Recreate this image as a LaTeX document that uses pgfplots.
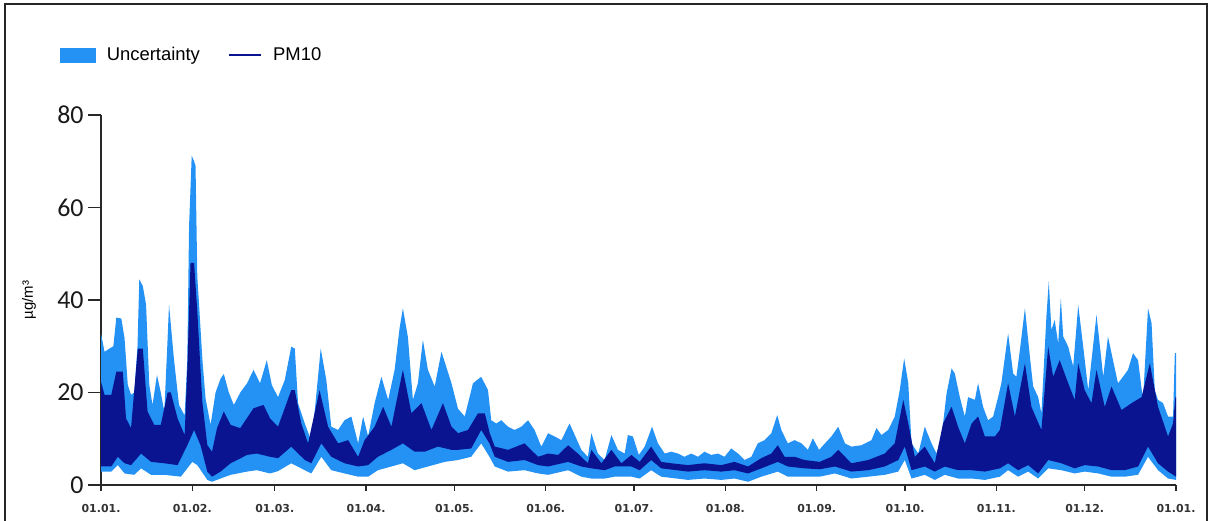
\documentclass[border=0pt]{standalone}
\usepackage{fontspec}
\setmainfont{Liberation Sans}
\newfontfamily\calib{Carlito}
\newfontfamily\dv{DejaVu Sans}
\usepackage{pgfplots}
\pgfplotsset{compat=1.18}
\usepgfplotslibrary{fillbetween}
\definecolor{ublue}{RGB}{36,145,245}
\definecolor{pmdark}{RGB}{10,20,145}
\definecolor{axgray}{RGB}{40,40,40}
\begin{document}
\begin{tikzpicture}
\begin{axis}[
  at={(101bp,36bp)}, anchor=south west,
  scale only axis, width=1075bp, height=370bp,
  xmin=0, xmax=365, ymin=0, ymax=80,
  axis lines=left, axis line style={-, line width=1.3bp, axgray},
  tick align=outside,
  xtick={0,31,59,90,120,151,181,212,243,273,304,334,365},
  xticklabels={01.01.,01.02.,01.03.,01.04.,01.05.,01.06.,01.07.,01.08.,01.09.,01.10.,01.11.,01.12.,01.01.},
  ytick={0,20,40,60,80},
  minor tick num=0,
  x tick style={line width=1.3bp, axgray, /pgfplots/major tick length=6bp},
  y tick style={line width=1.3bp, axgray, /pgfplots/major tick length=13bp},
  xticklabel style={font=\dv\bfseries\fontsize{11}{11}\selectfont, text=black!80, inner sep=0pt, anchor=north, yshift=-15bp},
  yticklabel style={font=\calib\fontsize{26}{26}\selectfont, text=black!90, inner sep=0pt, anchor=east, xshift=-13bp},
  /pgf/number format/assume math mode=true,
  ylabel={µg/m³},
  ylabel style={font=\fontsize{15}{15}\selectfont, at={(axis description cs:-0.067,0.5)}, anchor=center},
  legend style={at={(axis description cs:-0.038,1.162)}, anchor=west, draw=none, fill=none, inner sep=0pt,
    font=\fontsize{18.5}{18.5}\selectfont, nodes={inner sep=0pt},
    /tikz/every odd column/.append style={column sep=11bp},
    /tikz/every even column/.append style={column sep=28bp}},
  legend columns=2,
]
\addlegendimage{legend image code/.code={\fill[ublue] (0bp,-7bp) rectangle (35bp,7bp);}}
\addlegendentry{Uncertainty}
\addlegendimage{legend image code/.code={\draw[pmdark, line width=2.2bp] (0bp,0bp) -- (32bp,0bp);}}
\addlegendentry{PM10}

% upper uncertainty envelope
\addplot[name path=uh, draw=none, forget plot] table {
x y
0 32.8
1.2 28.8
2.9 29.5
4.2 30
5.2 36.2
6.9 36
8.0 31.7
9.1 21.6
10.2 19.5
11.3 20
12.4 30
13.0 44.5
14.2 43
15.3 39
16.4 21.6
17.5 17.3
19.0 23.8
20.3 20
21.5 15.9
22.5 30
23.1 39
24.8 27
26.5 17.3
28.4 15
29.3 27
29.9 55.9
30.8 71.2
31.6 70
32.1 69
32.7 45
33.3 39
34.4 27.4
35.5 18.7
37.2 13
38.9 20
40.6 23
41.7 24
43.4 20
45.1 17.3
47.3 20
49.6 22
51.8 24.9
54.0 22
56.3 27
58.0 21.6
60.1 19
62.4 22.7
64.6 29.9
65.8 29.5
66.9 17.7
69.2 13.3
71.4 9.5
72.6 16.2
74.6 29.5
76.5 22.7
78.2 12.6
80.5 11.9
82.7 14
85.0 14.8
87.3 9
89.0 14.8
90.7 10.5
92.9 17.7
95.2 23.4
97.5 18.4
99.7 24.9
101.4 34
102.5 38.2
104.2 32
105.9 18.4
107.6 22
109.3 31.4
111.0 24.9
113.3 21.3
115.6 28.8
119.0 22
121.2 16.5
123.5 14.8
126.3 22
129.1 23.4
131.4 20.5
132.5 14
134.2 13.3
135.9 14
138.2 12.6
140.4 11.9
142.7 12.6
145.0 14
147.2 11.9
149.5 8.3
151.8 11.2
154.0 10.5
156.3 9.7
159.1 13.3
163.1 7.6
165.3 6.1
166.5 11.2
168.7 6.8
171.0 5.4
173.3 10.8
175.5 7.6
177.8 6.8
178.9 10.8
180.6 10.5
182.6 6.5
184.6 8.3
187.1 12.6
189.1 9
191.4 6.8
193.6 7.2
195.9 6.8
198.1 6.1
200.4 6.8
202.7 6.1
204.9 7.2
207.2 6.5
209.5 6.8
211.7 6.1
214.0 7.9
216.3 6.8
218.5 5.4
220.8 6.1
223.0 9
225.3 9.7
227.6 11.2
229.6 15.1
231.0 11.9
233.2 9
235.5 9.7
237.8 9
240.0 7.6
241.7 10.1
243.8 7.6
245.8 9
248.0 10.5
250.3 12.6
252.6 9
254.8 8.3
258.2 8.6
261.6 9.7
263.3 12.3
265.0 10.8
267.3 11.9
269.5 14.8
271.2 20.5
272.7 27.4
274.1 22
275.2 9
277.5 6.8
279.7 12.6
282.0 9
283.7 6.8
285.4 10.5
287.1 19.8
288.8 25.2
289.9 24.1
291.6 19
293.3 14.8
294.4 19
296.7 18.4
297.8 22
299.5 16.9
301.2 14
302.9 14.8
304.6 19
305.7 22
308.0 32.8
309.7 24.1
310.8 23.4
312.0 29.2
313.7 38.2
315.4 27.7
316.5 21.3
318.2 19
319.3 15.5
321.0 36.4
321.8 44
322.7 33.5
323.8 35.7
325.0 30.6
325.9 40.4
326.7 32.1
328.4 29.9
330.1 25.6
331.8 38.9
333.5 29.9
335.2 20.5
338.0 36.8
340.3 23.4
341.9 32.1
343.6 27
345.3 22
347.0 23.4
348.7 24.9
350.4 28.5
352.1 27
353.8 18.4
355.5 38.2
356.7 35
357.8 20.5
358.9 18.4
360.6 17.7
362.3 14.8
364.0 14.8
364.6 28.5
365 28.5
};

% lower uncertainty envelope
\addplot[name path=ul, draw=none, forget plot] table {
x y
0 2.9
3.5 2.9
5.7 4.3
8 2.5
11.3 2.2
13.6 3.6
17 2.2
21.5 2.2
27.1 1.8
31 5
32.7 4.3
36.1 1.1
37.7 0.7
40.6 1.4
44 2.2
49.6 2.9
52.9 3.2
57.4 2.5
60.1 3
64.6 4.7
69.2 3.2
71.4 2.5
74.8 6.1
78.2 3.2
82.7 2.5
87.3 1.8
90.7 1.8
94 3.2
98.6 4
102.5 4.7
106.5 3.2
111 4
116.7 5
121.2 5.4
125.7 6.1
129.1 9
131.9 6.1
133.7 4
138.2 2.9
143.8 3.2
148.4 2.5
151.8 2.2
158.6 3.2
163.1 1.8
166.5 1.4
171 1.4
174.4 1.8
180.1 1.8
182.9 1.4
186.8 3.2
190.2 1.8
199.3 1.1
204.9 1.4
210.6 1.1
215.1 1.4
219.7 0.7
224.2 1.8
229.8 2.9
233.2 1.8
244 1.8
249.2 2.5
254.8 1.4
260.5 1.8
266.1 2.2
270.7 2.9
272.9 5.4
275.2 1.4
279.7 2.2
283.1 1.1
286.5 2.2
291 1.4
295.6 1.4
300.1 1.1
305.2 1.8
308 3.2
311.4 1.8
314.8 2.9
318.2 1.4
321.6 3.6
326.1 3.2
330.6 2.5
334 2.9
338.6 2.5
343.1 1.8
347.6 1.8
352.1 2.2
355.5 6.1
358.9 3.2
362.3 1.4
365 1.1
};

% upper PM10 envelope
\addplot[name path=ph, draw=none, forget plot] table {
x y
0 22.3
1.2 19.5
3.5 19.5
5.2 24.5
7.4 24.5
8.5 14.4
10.2 12.3
12.5 29.5
14.2 29.5
15.8 15.9
18.1 13
20.3 13
22.6 20
23.7 20
26 14.4
28.4 10.8
29.3 25
30.4 48
31.6 48
32.7 37.5
34.4 18
36.1 8.6
37.7 7.2
39.4 12.3
41.7 15.9
44 13
47.3 12.3
51.8 16.6
55.2 17.3
57.4 14.4
60.1 12.6
64.6 20.5
65.8 20.5
68 13.3
70.3 9
74.2 20.5
77.1 12.6
80.5 9
83.9 9.7
87.3 6.1
89.5 9.7
92.9 12.6
95.8 16.9
98.6 12.6
102.5 24.9
105.4 15.5
108.8 17.7
112.2 11.9
116.1 17.7
119 12.6
121.2 11.2
124.6 11.9
128 15.5
130.3 15.5
132 11.2
133.7 8.3
138.2 7.6
143.8 9
148.4 6.1
151.8 6.8
155.2 6.5
158.6 8.6
161.9 6.8
165.3 4.7
166.5 7.6
169.9 4.7
173.3 7.6
176.7 4.7
180.1 6.5
182.9 5
186.8 8.3
190.2 5
193.6 4.7
199.3 4.3
204.9 4.7
210.6 4.3
215.1 5
219.7 4
224.2 5.8
227.6 6.8
229.8 8.6
232.1 6.1
235.5 6.1
238.9 5.4
244 5
248 6.1
250.3 7.6
254.8 4.7
260.5 5.4
266.1 6.8
269.5 9
272.4 18.4
274.1 13.3
276.3 6.1
279.7 8.3
283.1 4.7
285.9 13.3
288.8 16.9
291 12.6
293.3 9
295.6 13.3
297.8 14.8
300.1 10.5
303.5 10.5
305.2 11.9
308 22
310.3 14.8
313.7 26.3
315.9 16.9
319.3 11.9
321.6 29.9
323.3 23.4
325.5 27
328.4 22
330.6 18.4
331.8 26.3
334.0 20.5
336.3 17.7
338 24.9
340.8 16.9
343.1 21.3
346.5 16.2
349.9 17.7
353.3 19
356.1 26.3
358.9 16.9
362.3 10.5
364 13.3
364.8 19
365 19
};

% lower PM10 envelope
\addplot[name path=pl, draw=none, forget plot] table {
x y
0 4
3.5 4
5.7 6.1
8 4.7
10.2 4.3
13.6 6.8
17 5
21.5 4.7
26 4.3
29.3 8.6
31.6 11.9
33.8 8.6
36.1 2.9
37.7 1.8
40.6 2.9
44 4.7
49.6 6.5
52.9 6.8
57.4 6.1
60.1 5.8
64.6 8.3
69.2 5.4
71.4 4.7
74.8 9
78.2 6.1
82.7 4.7
87.3 4
90.7 4.3
94 6.1
98.6 7.6
102.5 9
106.5 7.2
109.9 7.2
114.4 8.3
119 7.6
121.2 7.6
125.7 7.9
129.1 11.9
131.9 9
133.7 6.1
138.2 5
143.8 5.4
148.4 4.3
151.8 4
158.6 5
163.1 4
166.5 3.6
171 3.2
174.4 4
180.1 4
182.9 3.2
186.8 5.4
190.2 3.6
199.3 2.9
204.9 3.2
210.6 2.9
215.1 3.2
219.7 2.5
224.2 3.6
229.8 5
233.2 4
238.9 3.6
244 3.4
249.2 4
254.8 2.9
260.5 3.2
266.1 4
270.7 5.4
272.9 8.3
275.2 3.2
279.7 4
283.1 2.9
286.5 4
291 3.2
295.6 3.2
300.1 2.9
305.2 3.6
308 4.7
311.4 3.2
314.8 4.3
318.2 2.5
321.6 5.4
326.1 4.7
330.6 3.6
334 4.3
338.6 4
343.1 3.2
347.6 3.2
352.1 4
355.5 8.3
358.9 4.7
362.3 2.9
365 1.8
};

\addplot[ublue, draw=none, forget plot] fill between[of=uh and ul];
\addplot[pmdark, draw=none, forget plot] fill between[of=ph and pl];
\end{axis}
\draw[line width=2bp, black!85] (5bp,0bp) -- (5bp,517bp) -- (1207bp,517bp) -- (1207bp,0bp);
\pgfresetboundingbox
\useasboundingbox (0,0) rectangle (1212bp,521bp);
\end{tikzpicture}
\end{document}
